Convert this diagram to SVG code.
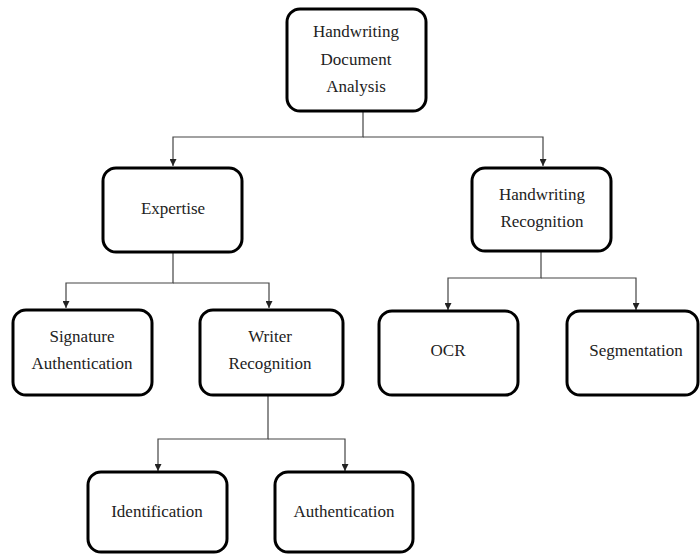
<svg xmlns="http://www.w3.org/2000/svg" width="700" height="554" viewBox="0 0 700 554">
<style>
.box{fill:#fff;stroke:#000;stroke-width:3}
.t{font-family:'Liberation Serif','Times New Roman','DejaVu Serif',serif;font-size:17px;fill:#222;text-anchor:middle}
.c{fill:none;stroke:#444;stroke-width:1.2}
</style>
<defs>
<marker id="ah" viewBox="0 0 10 10" refX="10" refY="5" markerWidth="7" markerHeight="7" markerUnits="userSpaceOnUse" orient="auto">
<path d="M0,0 L10,5 L0,10 Z" fill="#222"/>
</marker>
</defs>
<rect width="700" height="554" fill="#fff"/>
<g id="connectors">
<path class="c" d="M363,112 V137 H173 V166" marker-end="url(#ah)"/>
<path class="c" d="M363,137 H543 V166" marker-end="url(#ah)"/>
<path class="c" d="M173,252 V283 H66 V308" marker-end="url(#ah)"/>
<path class="c" d="M173,283 H269 V308" marker-end="url(#ah)"/>
<path class="c" d="M541,251 V278 H448 V310" marker-end="url(#ah)"/>
<path class="c" d="M541,278 H636 V310" marker-end="url(#ah)"/>
<path class="c" d="M268,395 V439 H158 V471" marker-end="url(#ah)"/>
<path class="c" d="M268,439 H345 V471" marker-end="url(#ah)"/>
</g>
<g id="n-root"><rect class="box" x="287" y="9" width="139" height="102" rx="13"/>
<text class="t" x="356" y="37">Handwriting</text><text class="t" x="356" y="65">Document</text><text class="t" x="356" y="92">Analysis</text></g>
<g id="n-expertise"><rect class="box" x="103" y="168" width="139" height="84" rx="13"/>
<text class="t" x="173" y="214">Expertise</text></g>
<g id="n-hwr"><rect class="box" x="472" y="168" width="139" height="83" rx="13"/>
<text class="t" x="542" y="200">Handwriting</text><text class="t" x="542" y="227">Recognition</text></g>
<g id="n-sig"><rect class="box" x="13" y="310" width="139" height="85" rx="13"/>
<text class="t" x="82" y="342">Signature</text><text class="t" x="82" y="369">Authentication</text></g>
<g id="n-writer"><rect class="box" x="200" y="310" width="143" height="85" rx="13"/>
<text class="t" x="270" y="342">Writer</text><text class="t" x="270" y="369">Recognition</text></g>
<g id="n-ocr"><rect class="box" x="379" y="311" width="139" height="84" rx="13"/>
<text class="t" x="448" y="356">OCR</text></g>
<g id="n-seg"><rect class="box" x="567" y="311" width="131" height="84" rx="13"/>
<text class="t" x="636" y="356">Segmentation</text></g>
<g id="n-ident"><rect class="box" x="88" y="472" width="139" height="80" rx="13"/>
<text class="t" x="157" y="517">Identification</text></g>
<g id="n-auth"><rect class="box" x="275" y="472" width="138" height="80" rx="13"/>
<text class="t" x="344" y="517">Authentication</text></g>
</svg>
